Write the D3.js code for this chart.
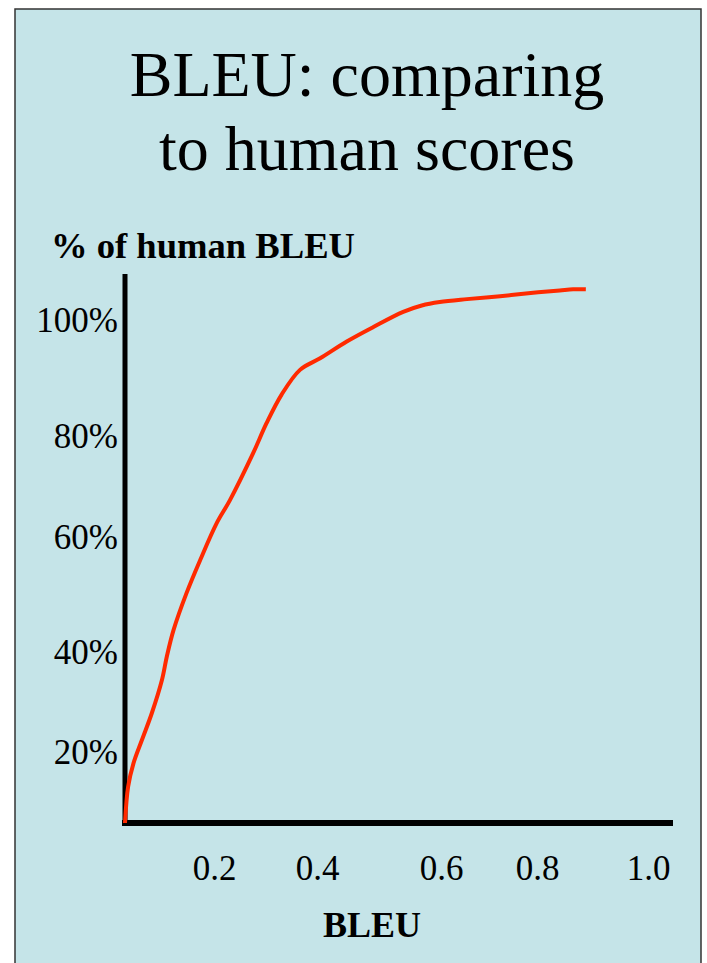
<!DOCTYPE html>
<html>
<head>
<meta charset="utf-8">
<script src="https://cdn.jsdelivr.net/npm/d3@7"></script>
<style>
  html, body { margin: 0; padding: 0; background: #fff; }
  svg { display: block; }
</style>
</head>
<body>
<svg id="chart"></svg>
<script>
// values
var bleu = [0, 0.007, 0.019, 0.038, 0.06, 0.083, 0.094, 0.109, 0.138, 0.169, 0.205, 0.231,
            0.276, 0.302, 0.331, 0.367, 0.405, 0.448, 0.491, 0.539, 0.569, 0.598, 0.654,
            0.723, 0.792, 0.841, 0.865, 0.888];
var pctHuman = [0, 10.2, 16.8, 22.4, 27.7, 34.4, 39.1, 43.8, 50.2, 56, 62.7, 67.3,
                76.6, 82.2, 87.1, 91.4, 93.4, 96.3, 98.8, 101.4, 102.5, 103.1, 103.6,
                104.1, 104.7, 105.1, 105.3, 105.3];
var xTicks = [0.2, 0.4, 0.6, 0.8, 1.0];
var yTicks = [20, 40, 60, 80, 100];
var titleLines = ["BLEU: comparing", "to human scores"];

var W = 707, H = 963;
var serif = "'Liberation Serif', 'Times New Roman', serif";

var svg = d3.select("#chart")
    .attr("width", W)
    .attr("height", H);

// slide panel
svg.append("rect")
    .attr("x", 15).attr("y", 9)
    .attr("width", 686).attr("height", H + 10)
    .style("fill", "#c5e4e8")
    .style("stroke", "#333")
    .style("stroke-width", 1.5);

// title
svg.append("g").selectAll("text")
    .data(titleLines)
  .enter()
  .append("text")
    .attr("x", 367)
    .attr("y", function(d, i) { return 96 + i * 74; })
    .style("text-anchor", "middle")
    .style("font-family", serif)
    .style("font-size", "64px")
    .text(function(d) { return d; });

// the axes on the slide are hand placed, so the scales are piecewise
var x = d3.scaleLinear()
    .domain([0, 0.2, 0.4, 0.6, 0.8, 1.0])
    .range([125, 214, 317, 441, 537, 648]);
var y = d3.scaleLinear()
    .domain([0, 20, 40, 60, 80, 100])
    .range([823, 752, 652, 537, 436, 320]);

// tick labels
var xAxis = svg.append("g")
    .attr("transform", "translate(0," + y(0) + ")")
    .call(d3.axisBottom(x).tickValues(xTicks).tickSize(0).tickPadding(32)
      .tickFormat(d3.format(".1f")));
var yAxis = svg.append("g")
    .attr("transform", "translate(" + x(0) + ",0)")
    .call(d3.axisLeft(y).tickValues(yTicks).tickSize(0).tickPadding(7)
      .tickFormat(function(d) { return d + "%"; }));

[xAxis, yAxis].forEach(function(a) {
  a.select(".domain").remove();
  a.selectAll("text")
    .style("font-family", serif)
    .style("font-size", "35px")
    .style("fill", "#000");
});

// thick axis lines
svg.append("line")
    .attr("x1", x(0) - 3).attr("x2", 673)
    .attr("y1", y(0)).attr("y2", y(0))
    .style("stroke", "#000").style("stroke-width", 6);
svg.append("line")
    .attr("x1", x(0)).attr("x2", x(0))
    .attr("y1", 274).attr("y2", y(0) + 3)
    .style("stroke", "#000").style("stroke-width", 5);

// curve
var pts = bleu.map(function(b, i) { return [b, pctHuman[i]]; });
var line = d3.line()
    .x(function(d) { return x(d[0]); })
    .y(function(d) { return y(d[1]); })
    .curve(d3.curveCatmullRom);

svg.append("path")
    .datum(pts)
    .attr("d", line)
    .style("fill", "none")
    .style("stroke", "#ff2a00")
    .style("stroke-width", 4)
    .style("stroke-linejoin", "round");

// axis titles
svg.append("text")
    .attr("x", 51)
    .attr("y", 258)
    .attr("textLength", 304)
    .attr("lengthAdjust", "spacingAndGlyphs")
    .style("font-family", serif)
    .style("font-weight", "bold")
    .style("font-size", "35px")
    .text("% of human BLEU");

svg.append("text")
    .attr("x", 372)
    .attr("y", 937)
    .style("text-anchor", "middle")
    .style("font-family", serif)
    .style("font-weight", "bold")
    .style("font-size", "36px")
    .text("BLEU");
</script>
</body>
</html>
